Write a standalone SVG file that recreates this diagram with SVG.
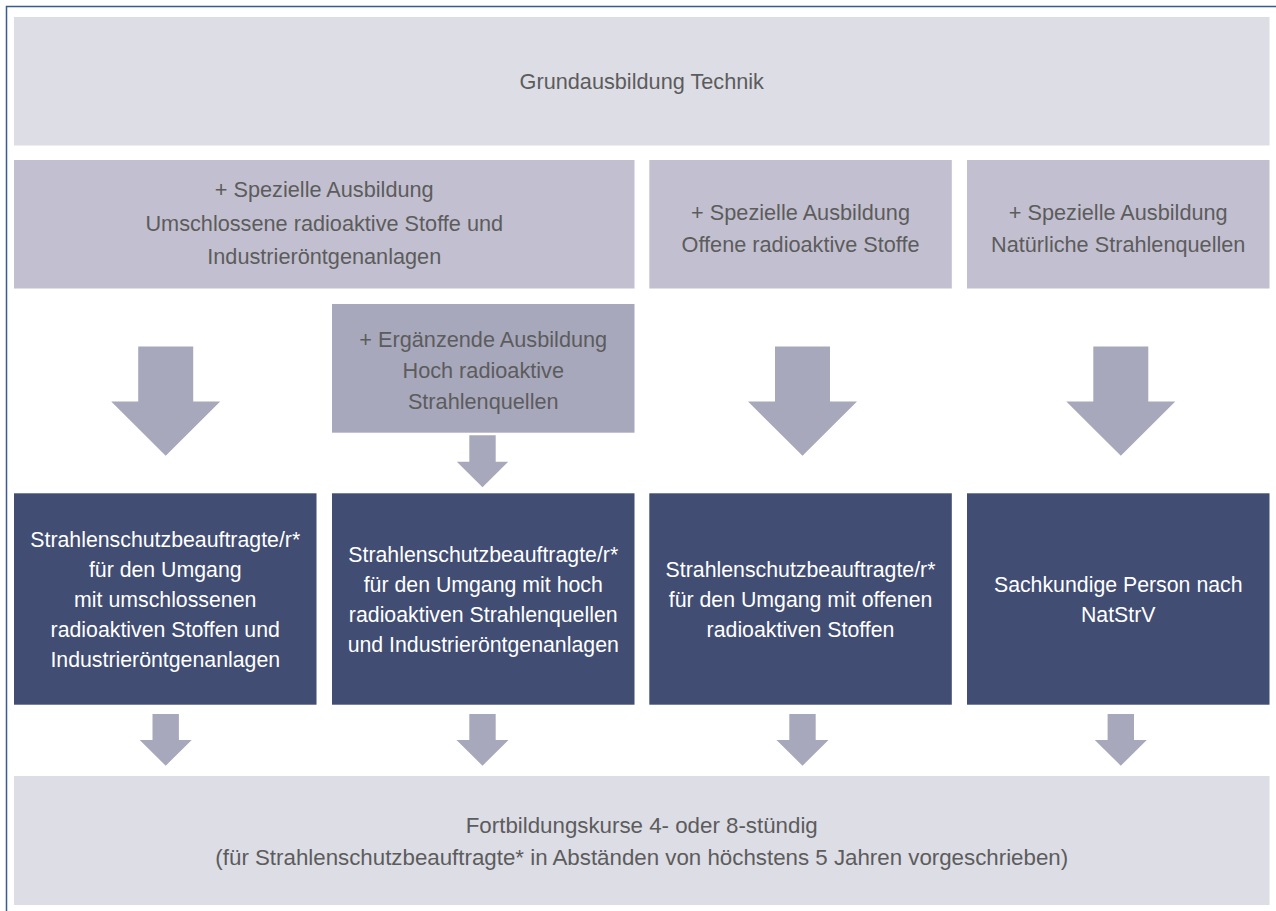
<svg xmlns="http://www.w3.org/2000/svg" width="1276" height="911" viewBox="0 0 1276 911">
<defs>
<style>
.light{fill:#dddde6}
.mid{fill:#c2c0d0}
.sup{fill:#a8a8bc}
.dark{fill:#414d72}
.arrow{fill:#a8a8bc}
.t{font-family:"Liberation Sans",Arial,sans-serif;font-size:21.7px;fill:#5c5c5c;text-anchor:middle}
.b{font-size:22.3px}
.w{font-family:"Liberation Sans",Arial,sans-serif;font-size:21.3px;fill:#ffffff;text-anchor:middle}
</style>
</defs>
<rect width="1276" height="911" fill="#ffffff"/>
<path d="M6.5 911 V6.5 H1276" fill="none" stroke="#3b5a8e" stroke-width="1.5"/>

<g id="grundausbildung">
<rect class="light" x="14" y="17" width="1255.5" height="128.5"/>
<text class="t" x="641.75" y="89">Grundausbildung Technik</text>
</g>

<g id="speziell-umschlossen">
<rect class="mid" x="14" y="160" width="620.5" height="128.5"/>
<text class="t" x="324.25" y="197">+ Spezielle Ausbildung</text>
<text class="t" x="324.25" y="231">Umschlossene radioaktive Stoffe und</text>
<text class="t" x="324.25" y="263.5">Industrieröntgenanlagen</text>
</g>

<g id="speziell-offen">
<rect class="mid" x="649.3" y="160" width="302.5" height="128.5"/>
<text class="t" x="800.55" y="220">+ Spezielle Ausbildung</text>
<text class="t" x="800.55" y="251.7">Offene radioaktive Stoffe</text>
</g>

<g id="speziell-natuerlich">
<rect class="mid" x="967" y="160" width="302.5" height="128.5"/>
<text class="t" x="1118.25" y="220">+ Spezielle Ausbildung</text>
<text class="t" x="1118.25" y="251.7">Natürliche Strahlenquellen</text>
</g>

<g id="ergaenzend">
<rect class="sup" x="332" y="304" width="302.5" height="128.7"/>
<text class="t" x="483.25" y="346.7">+ Ergänzende Ausbildung</text>
<text class="t" x="483.25" y="377.7">Hoch radioaktive</text>
<text class="t" x="483.25" y="408.5">Strahlenquellen</text>
</g>

<g id="ssb-umschlossen">
<rect class="dark" x="14" y="493.3" width="302.5" height="211.4"/>
<text class="w" x="165.25" y="547.2">Strahlenschutzbeauftragte/r*</text>
<text class="w" x="165.25" y="577.2">für den Umgang</text>
<text class="w" x="165.25" y="607.2">mit umschlossenen</text>
<text class="w" x="165.25" y="637.2">radioaktiven Stoffen und</text>
<text class="w" x="165.25" y="667.2">Industrieröntgenanlagen</text>
</g>

<g id="ssb-hoch">
<rect class="dark" x="332" y="493.3" width="302.5" height="211.4"/>
<text class="w" x="483.25" y="561.7">Strahlenschutzbeauftragte/r*</text>
<text class="w" x="483.25" y="591.7">für den Umgang mit hoch</text>
<text class="w" x="483.25" y="621.7">radioaktiven Strahlenquellen</text>
<text class="w" x="483.25" y="651.7">und Industrieröntgenanlagen</text>
</g>

<g id="ssb-offen">
<rect class="dark" x="649.3" y="493.3" width="302.5" height="211.4"/>
<text class="w" x="800.55" y="576.7">Strahlenschutzbeauftragte/r*</text>
<text class="w" x="800.55" y="606.7">für den Umgang mit offenen</text>
<text class="w" x="800.55" y="636.7">radioaktiven Stoffen</text>
</g>

<g id="sachkundige">
<rect class="dark" x="967" y="493.3" width="302.5" height="211.4"/>
<text class="w" x="1118.25" y="591.7">Sachkundige Person nach</text>
<text class="w" x="1118.25" y="621.7">NatStrV</text>
</g>

<g id="fortbildung">
<rect class="light" x="14" y="776" width="1255.5" height="129"/>
<text class="t b" x="641.75" y="833">Fortbildungskurse 4- oder 8-stündig</text>
<text class="t b" x="641.75" y="864.5">(für Strahlenschutzbeauftragte* in Abständen von höchstens 5 Jahren vorgeschrieben)</text>
</g>

<g id="connectors">
<path class="arrow" d="M138.2 346.5 H193.2 V401.5 H220.2 L165.7 455.7 L111.2 401.5 H138.2 Z"/>
<path class="arrow" d="M775 346.5 H830 V401.5 H857 L802.5 455.7 L748 401.5 H775 Z"/>
<path class="arrow" d="M1093.3 346.5 H1148.3 V401.5 H1175.3 L1120.8 455.7 L1066.3 401.5 H1093.3 Z"/>
<path class="arrow" d="M469.3 435.3 H495.7 V461.7 H508.2 L482.5 487.3 L456.8 461.7 H469.3 Z"/>
<path class="arrow" d="M152.5 714 H178.9 V740 H191.7 L165.7 765.7 L139.7 740 H152.5 Z"/>
<path class="arrow" d="M469.3 714 H495.7 V740 H508.5 L482.5 765.7 L456.5 740 H469.3 Z"/>
<path class="arrow" d="M789.3 714 H815.7 V740 H828.5 L802.5 765.7 L776.5 740 H789.3 Z"/>
<path class="arrow" d="M1107.6 714 H1134 V740 H1146.8 L1120.8 765.7 L1094.8 740 H1107.6 Z"/>
</g>
</svg>
